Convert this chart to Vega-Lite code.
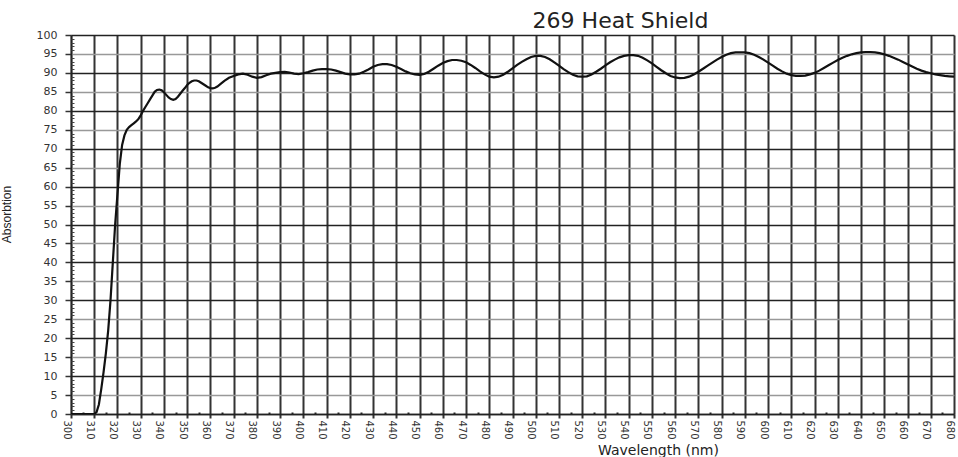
{
  "$schema": "https://vega.github.io/schema/vega-lite/v6.json",
  "width": 883,
  "height": 379,
  "autosize": {"type": "none"},
  "padding": {"left": 71, "top": 35, "right": 4, "bottom": 43},
  "background": "white",
  "title": {
    "text": "269 Heat Shield",
    "font": "DejaVu Sans",
    "fontSize": 22,
    "fontWeight": "normal",
    "color": "#222",
    "anchor": "middle",
    "frame": "group",
    "dx": 108,
    "dy": 23,
    "baseline": "alphabetic",
    "offset": 2
  },
  "data": {
    "values": [
      {"w": 300, "a": 0}, {"w": 305, "a": 0}, {"w": 310, "a": 0}, {"w": 311, "a": 0.5},
      {"w": 312, "a": 2.5}, {"w": 313, "a": 6.5}, {"w": 314, "a": 11}, {"w": 315, "a": 16},
      {"w": 316, "a": 22}, {"w": 317, "a": 30}, {"w": 318, "a": 40}, {"w": 319, "a": 50},
      {"w": 320, "a": 58}, {"w": 321, "a": 66}, {"w": 322, "a": 71}, {"w": 323, "a": 73.5},
      {"w": 324, "a": 75}, {"w": 325, "a": 75.7}, {"w": 326, "a": 76.2}, {"w": 327, "a": 76.7},
      {"w": 328, "a": 77.2}, {"w": 329, "a": 77.8}, {"w": 330, "a": 78.8}, {"w": 331, "a": 80},
      {"w": 332, "a": 81}, {"w": 333, "a": 82}, {"w": 334, "a": 83}, {"w": 335, "a": 84},
      {"w": 336, "a": 85}, {"w": 337, "a": 85.5}, {"w": 338, "a": 85.6}, {"w": 339, "a": 85.4},
      {"w": 340, "a": 84.9}, {"w": 341, "a": 84.2}, {"w": 342, "a": 83.5}, {"w": 343, "a": 83.1},
      {"w": 344, "a": 82.9}, {"w": 345, "a": 83.1}, {"w": 346, "a": 83.7}, {"w": 347, "a": 84.5},
      {"w": 348, "a": 85.3}, {"w": 349, "a": 86}, {"w": 350, "a": 86.8}, {"w": 351, "a": 87.4},
      {"w": 352, "a": 87.8}, {"w": 353, "a": 88}, {"w": 354, "a": 88}, {"w": 355, "a": 87.8},
      {"w": 356, "a": 87.4}, {"w": 357, "a": 87}, {"w": 358, "a": 86.6}, {"w": 359, "a": 86.2},
      {"w": 360, "a": 86}, {"w": 361, "a": 85.9}, {"w": 362, "a": 86.1}, {"w": 363, "a": 86.4},
      {"w": 364, "a": 86.9}, {"w": 366, "a": 87.9}, {"w": 368, "a": 88.7}, {"w": 370, "a": 89.2},
      {"w": 372, "a": 89.6}, {"w": 374, "a": 89.8}, {"w": 376, "a": 89.5}, {"w": 378, "a": 89.0},
      {"w": 380, "a": 88.7}, {"w": 382, "a": 88.9}, {"w": 384, "a": 89.4}, {"w": 386, "a": 89.8},
      {"w": 388, "a": 90.0}, {"w": 390, "a": 90.2}, {"w": 392, "a": 90.3}, {"w": 394, "a": 90.1},
      {"w": 396, "a": 89.8}, {"w": 398, "a": 89.7}, {"w": 400, "a": 89.9}, {"w": 402, "a": 90.2},
      {"w": 404, "a": 90.6}, {"w": 406, "a": 90.9}, {"w": 408, "a": 91.0}, {"w": 410, "a": 91.0},
      {"w": 412, "a": 90.9}, {"w": 414, "a": 90.6}, {"w": 416, "a": 90.2}, {"w": 418, "a": 89.8},
      {"w": 420, "a": 89.6}, {"w": 422, "a": 89.6}, {"w": 424, "a": 89.8}, {"w": 426, "a": 90.3},
      {"w": 428, "a": 90.9}, {"w": 430, "a": 91.6}, {"w": 432, "a": 92.1}, {"w": 434, "a": 92.3},
      {"w": 436, "a": 92.3}, {"w": 438, "a": 92.1}, {"w": 440, "a": 91.6}, {"w": 442, "a": 91.0},
      {"w": 444, "a": 90.4}, {"w": 446, "a": 89.9}, {"w": 448, "a": 89.6}, {"w": 450, "a": 89.5},
      {"w": 452, "a": 89.7}, {"w": 454, "a": 90.3}, {"w": 456, "a": 91.1}, {"w": 458, "a": 91.9},
      {"w": 460, "a": 92.6}, {"w": 462, "a": 93.1}, {"w": 464, "a": 93.4}, {"w": 466, "a": 93.4},
      {"w": 468, "a": 93.2}, {"w": 470, "a": 92.8}, {"w": 472, "a": 92.1}, {"w": 474, "a": 91.3},
      {"w": 476, "a": 90.4}, {"w": 478, "a": 89.6}, {"w": 480, "a": 89.0}, {"w": 482, "a": 88.8},
      {"w": 484, "a": 89.0}, {"w": 486, "a": 89.5}, {"w": 488, "a": 90.3}, {"w": 490, "a": 91.2},
      {"w": 492, "a": 92.1}, {"w": 494, "a": 92.9}, {"w": 496, "a": 93.6}, {"w": 498, "a": 94.2},
      {"w": 500, "a": 94.5}, {"w": 502, "a": 94.5}, {"w": 504, "a": 94.2}, {"w": 506, "a": 93.6},
      {"w": 508, "a": 92.8}, {"w": 510, "a": 91.9}, {"w": 512, "a": 91.0}, {"w": 514, "a": 90.2},
      {"w": 516, "a": 89.5}, {"w": 518, "a": 89.1}, {"w": 520, "a": 89.0}, {"w": 522, "a": 89.1},
      {"w": 524, "a": 89.6}, {"w": 526, "a": 90.3}, {"w": 528, "a": 91.1}, {"w": 530, "a": 92.0},
      {"w": 532, "a": 92.8}, {"w": 534, "a": 93.5}, {"w": 536, "a": 94.1}, {"w": 538, "a": 94.5},
      {"w": 540, "a": 94.7}, {"w": 542, "a": 94.7}, {"w": 544, "a": 94.5}, {"w": 546, "a": 94.0},
      {"w": 548, "a": 93.3}, {"w": 550, "a": 92.5}, {"w": 552, "a": 91.6}, {"w": 554, "a": 90.7},
      {"w": 556, "a": 89.9}, {"w": 558, "a": 89.2}, {"w": 560, "a": 88.8}, {"w": 562, "a": 88.6},
      {"w": 564, "a": 88.7}, {"w": 566, "a": 89.0}, {"w": 568, "a": 89.6}, {"w": 570, "a": 90.3},
      {"w": 572, "a": 91.1}, {"w": 574, "a": 91.9}, {"w": 576, "a": 92.7}, {"w": 578, "a": 93.5},
      {"w": 580, "a": 94.2}, {"w": 582, "a": 94.8}, {"w": 584, "a": 95.2}, {"w": 586, "a": 95.4},
      {"w": 588, "a": 95.4}, {"w": 590, "a": 95.4}, {"w": 592, "a": 95.2}, {"w": 594, "a": 94.8},
      {"w": 596, "a": 94.2}, {"w": 598, "a": 93.5}, {"w": 600, "a": 92.7}, {"w": 602, "a": 91.9},
      {"w": 604, "a": 91.1}, {"w": 606, "a": 90.4}, {"w": 608, "a": 89.8}, {"w": 610, "a": 89.4},
      {"w": 612, "a": 89.2}, {"w": 614, "a": 89.2}, {"w": 616, "a": 89.3}, {"w": 618, "a": 89.6},
      {"w": 620, "a": 90.0}, {"w": 622, "a": 90.6}, {"w": 624, "a": 91.3}, {"w": 626, "a": 92.0},
      {"w": 628, "a": 92.7}, {"w": 630, "a": 93.4}, {"w": 632, "a": 94.0}, {"w": 634, "a": 94.5},
      {"w": 636, "a": 94.9}, {"w": 638, "a": 95.2}, {"w": 640, "a": 95.4}, {"w": 642, "a": 95.5},
      {"w": 644, "a": 95.5}, {"w": 646, "a": 95.4}, {"w": 648, "a": 95.2}, {"w": 650, "a": 94.9},
      {"w": 652, "a": 94.5}, {"w": 654, "a": 94.0}, {"w": 656, "a": 93.5}, {"w": 658, "a": 92.9},
      {"w": 660, "a": 92.3}, {"w": 662, "a": 91.7}, {"w": 664, "a": 91.1}, {"w": 666, "a": 90.6},
      {"w": 668, "a": 90.2}, {"w": 670, "a": 89.9}, {"w": 672, "a": 89.6}, {"w": 674, "a": 89.4},
      {"w": 676, "a": 89.2}, {"w": 678, "a": 89.1}, {"w": 680, "a": 89.0}
    ]
  },
  "layer": [
    {
      "mark": {"type": "line", "color": "#111", "strokeWidth": 2.2, "clip": true},
      "encoding": {
        "x": {
          "field": "w", "type": "quantitative",
          "scale": {"domain": [300, 680], "nice": false, "zero": false},
          "axis": {
            "orient": "bottom",
            "values": [300,310,320,330,340,350,360,370,380,390,400,410,420,430,440,450,460,470,480,490,500,510,520,530,540,550,560,570,580,590,600,610,620,630,640,650,660,670,680],
            "grid": true, "gridColor": "#333", "gridWidth": 2, "gridOpacity": 1,
            "domain": true, "domainColor": "#222", "domainWidth": 1.5,
            "ticks": true, "tickSize": 4, "tickColor": "#333", "tickWidth": 2,
            "labelAngle": 90, "labelAlign": "left", "labelBaseline": "middle",
            "labelOffset": -5, "labelPadding": 2,
            "labelFont": "DejaVu Sans", "labelFontSize": 10, "labelColor": "#333",
            "labelOverlap": false, "labelFlush": false,
            "title": "Wavelength (nm)", "titleFont": "DejaVu Sans", "titleFontSize": 14,
            "titleFontWeight": "normal", "titleColor": "#222",
            "titleX": 587, "titleY": 40, "titleAlign": "center", "titleBaseline": "alphabetic"
          }
        },
        "y": {
          "field": "a", "type": "quantitative",
          "scale": {"domain": [0, 100], "nice": false},
          "axis": {
            "orient": "left",
            "values": [0,5,10,15,20,25,30,35,40,45,50,55,60,65,70,75,80,85,90,95,100],
            "grid": true, "gridWidth": 1.6, "gridOpacity": 1,
            "gridColor": {"condition": {"test": "datum.value % 10 === 0", "value": "#222"}, "value": "#999"},
            "domain": true, "domainColor": "#222", "domainWidth": 1.5,
            "ticks": true, "tickSize": 6, "tickColor": "#333", "tickWidth": 1.5,
            "labelPadding": 8, "labelFont": "DejaVu Sans", "labelFontSize": 11,
            "labelColor": "#333", "labelOverlap": false, "labelFlush": false,
            "title": "Absorbtion", "titleFont": "Liberation Sans", "titleFontSize": 12,
            "titleFontWeight": "normal", "titleColor": "#222",
            "titleAngle": 270, "titleX": -61, "titleY": 179, "titleAlign": "center",
            "titleBaseline": "alphabetic"
          }
        }
      }
    },
    {
      "mark": {"type": "line", "color": "#111", "strokeWidth": 2.2, "opacity": 0},
      "encoding": {
        "x": {
          "field": "w", "type": "quantitative",
          "axis": {
            "orient": "bottom",
            "values": [305,315,325,335,345,355,365,375,385,395,405,415,425,435,445,455,465,475,485,495,505,515,525,535,545,555,565,575,585,595,605,615,625,635,645,655,665,675],
            "grid": false, "domain": false, "labels": false, "title": null,
            "ticks": true, "tickSize": -2, "tickColor": "#222", "tickWidth": 2
          }
        },
        "y": {
          "field": "a", "type": "quantitative",
          "axis": {
            "orient": "left",
            "values": [1,2,3,4,6,7,8,9,11,12,13,14,16,17,18,19,21,22,23,24,26,27,28,29,31,32,33,34,36,37,38,39,41,42,43,44,46,47,48,49,51,52,53,54,56,57,58,59,61,62,63,64,66,67,68,69,71,72,73,74,76,77,78,79,81,82,83,84,86,87,88,89,91,92,93,94,96,97,98,99],
            "grid": false, "domain": false, "labels": false, "title": null,
            "ticks": true, "tickSize": -3, "tickColor": "#444", "tickWidth": 1
          }
        }
      }
    }
  ],
  "resolve": {"axis": {"x": "independent", "y": "independent"}},
  "config": {"view": {"stroke": null}}
}
